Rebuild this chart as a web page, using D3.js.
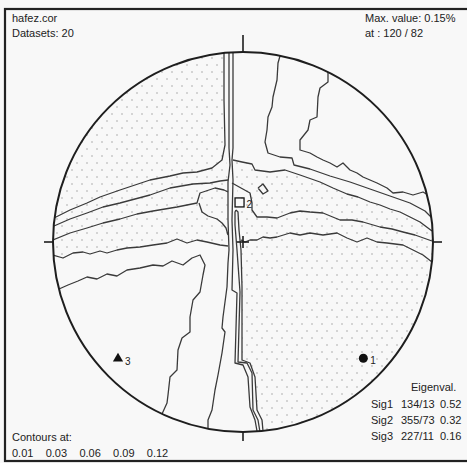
<!DOCTYPE html>
<html><head><meta charset="utf-8">
<script src="https://cdn.jsdelivr.net/npm/d3@7"></script>
<style>
body{margin:0;background:#f8f8f8}
svg{display:block}
text{font-family:"Liberation Sans",Arial,sans-serif;font-size:11px;fill:#222}
</style>
</head><body><svg id="c" width="467" height="463"></svg>
<script>
// ---------- data ----------
const headerLeft = ["hafez.cor", "Datasets: 20"];
const headerRight = ["Max. value: 0.15%", "at : 120 / 82"];
const contourTitle = "Contours at:";
const contourLevels = ["0.01", "0.03", "0.06", "0.09", "0.12"];
const eigenTitle = "Eigenval.";
const eigenNames = ["Sig1", "Sig2", "Sig3"];
const eigenTrend = [134, 355, 227];
const eigenPlunge = [13, 73, 11];
const eigenValues = ["0.52", "0.32", "0.16"];
const eigenSymbols = ["circle", "square", "triangle"];
const eigenLabels = ["1", "2", "3"];

// contour lines as [east, north] in net units (net radius = 190)
const lineA = [[-19,189],[-19,142],[-18,97],[-21,82],[-31,74],[-46,70],[-60,69],[-73,66],[-93,62],[-108,57],[-123,52],[-143,45],[-156,39],[-173,32],[-189,24]];
const lineB = [[-189,16],[-173,23],[-156,29],[-140,35],[-123,39],[-108,43],[-93,47],[-73,54],[-50,58],[-33,59],[-23,61],[-15,62]];
const lineC = [[-190,2],[-173,9],[-156,14],[-140,19],[-123,23],[-106,28],[-90,31],[-66,35],[-46,39],[-43,49],[-28,54],[-19,52],[-15,50]];
const lineC2 = [[-44,39],[-41,30],[-35,26],[-26,23],[-21,19],[-17,14],[-15,7]];
const lineD = [[-190,-13],[-180,-16],[-170,-11],[-160,-10],[-153,-12],[-143,-9],[-136,-11],[-126,-8],[-116,-6],[-103,-5],[-90,-3],[-76,-1],[-66,3],[-56,-1],[-46,2],[-36,0],[-23,-3],[-15,-4]];
const lineE = [[-184,-47],[-175,-43],[-165,-39],[-156,-35],[-146,-37],[-136,-32],[-126,-34],[-116,-28],[-103,-26],[-90,-23],[-80,-24],[-71,-19],[-60,-23],[-51,-16],[-43,-13],[-38,-23],[-40,-33],[-43,-50],[-50,-58],[-53,-75],[-53,-90],[-61,-96],[-65,-108],[-66,-128],[-73,-135],[-75,-153],[-76,-161],[-81,-172]];
const lineF = [[-14,189],[-14,94],[-13,77],[-15,60],[-15,22],[-14,-8],[-15,-21],[-16,-45],[-20,-75],[-21,-86],[-18,-90],[-21,-111],[-25,-133],[-28,-148],[-31,-168],[-35,-178],[-35,-187]];
const lineG = [[-10,189],[-10,94],[-11,82],[-10,62],[-11,22],[-10,-8],[-11,-48],[-6,-51],[-8,-121],[0,-123],[5,-135],[7,-165],[12,-178],[14,-189]];
const lineH = [[17,-190],[15,-178],[10,-168],[9,-131],[4,-121],[-5,-120],[-3,-50],[-6,-8],[-8,17],[-8,30],[-7,32]];
const lineI = [[-7,32],[-5,30],[-4,12],[-2,-8],[-1,-45],[-1,-118],[7,-121],[12,-135],[14,-168],[19,-178],[20,-189]];
const lineK = [[-10,82],[-1,80],[9,78],[12,72],[27,70],[42,72],[57,67],[77,60],[90,54],[104,48],[115,45],[127,40],[137,37],[147,33],[157,30],[167,25],[177,20],[189,11]];
const lineR1 = [[37,186],[35,179],[34,162],[30,145],[29,135],[25,125],[24,112],[22,100],[25,89],[37,85],[49,84],[51,77],[67,73],[87,66],[107,60],[127,53],[147,46],[167,39],[182,31],[189,24]];
const lineR2 = [[85,170],[85,160],[77,154],[75,145],[74,125],[67,122],[65,112],[57,102],[57,92],[67,89],[74,85],[80,82],[87,79],[94,75],[100,79],[107,72],[114,69],[120,65],[127,62],[134,59],[144,54],[150,49],[160,50],[170,47],[180,50],[185,47]];
const lineL = [[-11,59],[-2,54],[7,49],[9,39],[9,32],[14,25],[24,25],[34,24],[47,29],[57,31],[67,30],[80,29],[97,22],[109,22],[120,20],[137,15],[149,13],[160,10],[172,7],[189,1]];
const lineJ = [[-2,2],[2,0],[7,2],[14,2],[20,5],[27,4],[34,5],[47,9],[57,7],[67,9],[80,7],[94,9],[104,4],[114,0],[124,4],[134,0],[144,-1],[160,-3],[170,-8],[180,-13],[189,-20]];
const smallLoop = [[15,54],[20,58],[25,51],[20,48],[15,54]];

const contourLines = [lineA, lineB, lineC, lineC2, lineD, lineE, lineF, lineG, lineH, lineI, lineK, lineR1, lineR2, lineL, lineJ, smallLoop];

// ---------- layout ----------
const W = 467, H = 463;
const cx = 243, cy = 242, R = 190;
const svg = d3.select("#c");
const x = d3.scaleLinear().domain([-190, 190]).range([cx - R, cx + R]);
const y = d3.scaleLinear().domain([-190, 190]).range([cy + R, cy - R]);
const line = d3.line().x(d => x(d[0])).y(d => y(d[1]));

svg.append("rect").attr("width", W).attr("height", H).attr("fill", "#f8f8f8");

const defs = svg.append("defs");
const pat = defs.append("pattern").attr("id", "dots").attr("patternUnits", "userSpaceOnUse")
  .attr("width", 10).attr("height", 14);
pat.append("circle").attr("cx", 2).attr("cy", 2).attr("r", 0.75).attr("fill", "#9c9c9c");
pat.append("circle").attr("cx", 7).attr("cy", 9).attr("r", 0.75).attr("fill", "#9c9c9c");
defs.append("clipPath").attr("id", "net").append("circle").attr("cx", cx).attr("cy", cy).attr("r", R);

// stippled regions built from the contour lines
const outer = 230;
const stippleUL = lineA.concat([[-outer, 24], [-outer, outer], [-19, outer]]);
const stippleLeftBand = [[-18,97]].concat(lineA.slice(3), [[-outer,24],[-outer,-13]], lineD, [[-15,60]]);
const stippleRight = lineK.concat([[outer, 11], [outer, -20]], lineJ.slice().reverse(), [[-4, 40]]);
const stippleLR = lineJ.concat([[outer, -20], [outer, -outer], [20, -outer]], lineI.slice().reverse());

const sg = svg.append("g").attr("clip-path", "url(#net)");
[stippleUL, stippleLeftBand, stippleRight, stippleLR].forEach(p => {
  sg.append("path").attr("d", line(p) + "Z").attr("fill", "url(#dots)").attr("stroke", "none");
});

// contour lines
const lg = svg.append("g").attr("clip-path", "url(#net)");
contourLines.forEach(l => {
  lg.append("path").attr("d", line(l)).attr("fill", "none")
    .attr("stroke", "#3a3a3a").attr("stroke-width", 1.3).attr("stroke-linejoin", "round");
});

// net circle
svg.append("circle").attr("cx", cx).attr("cy", cy).attr("r", R)
  .attr("fill", "none").attr("stroke", "#1e1e1e").attr("stroke-width", 2);

// ticks N, S, E, W and centre cross
const tk = svg.append("g").attr("stroke", "#1e1e1e").attr("stroke-width", 1.6);
tk.append("line").attr("x1", x(0)).attr("x2", x(0)).attr("y1", y(190) - 17).attr("y2", y(190));
tk.append("line").attr("x1", x(0)).attr("x2", x(0)).attr("y1", y(-190)).attr("y2", y(-190) + 9);
tk.append("line").attr("x1", x(-190) - 9).attr("x2", x(-190)).attr("y1", y(0)).attr("y2", y(0));
tk.append("line").attr("x1", x(190)).attr("x2", x(190) + 9).attr("y1", y(0)).attr("y2", y(0));
tk.append("line").attr("x1", x(0) - 6).attr("x2", x(0) + 6).attr("y1", y(0)).attr("y2", y(0));
tk.append("line").attr("x1", x(0)).attr("x2", x(0)).attr("y1", y(0) - 6).attr("y2", y(0) + 6);

// eigenvector symbols (Lambert equal-area, lower hemisphere)
const rad = Math.PI / 180;
eigenTrend.forEach((tr, i) => {
  const r = 190 * Math.SQRT2 * Math.sin((90 - eigenPlunge[i]) / 2 * rad);
  const px = x(r * Math.sin(tr * rad)), py = y(r * Math.cos(tr * rad));
  const s = eigenSymbols[i];
  if (s === "circle") {
    svg.append("circle").attr("cx", px).attr("cy", py).attr("r", 4.5).attr("fill", "#111");
  } else if (s === "square") {
    svg.append("rect").attr("x", px - 4.5).attr("y", py - 4.5).attr("width", 9).attr("height", 9)
      .attr("fill", "none").attr("stroke", "#111").attr("stroke-width", 1.3);
  } else {
    svg.append("path").attr("d", d3.symbol().type(d3.symbolTriangle).size(45)())
      .attr("transform", `translate(${px},${py})`).attr("fill", "#111");
  }
  svg.append("text").attr("x", px + 7).attr("y", py + 6).style("font-size", "10px").text(eigenLabels[i]);
});

// texts
headerLeft.forEach((t, i) => svg.append("text").attr("x", 12).attr("y", 22 + i * 15).text(t));
headerRight.forEach((t, i) => svg.append("text").attr("x", 365).attr("y", 22 + i * 15).text(t));
svg.append("text").attr("x", 12).attr("y", 441).text(contourTitle);
contourLevels.forEach((t, i) => svg.append("text").attr("x", 12 + i * 33.7).attr("y", 457).text(t));
svg.append("text").attr("x", 411).attr("y", 391).text(eigenTitle);
eigenNames.forEach((t, i) => {
  const yy = 408 + i * 16;
  svg.append("text").attr("x", 371).attr("y", yy).text(t);
  svg.append("text").attr("x", 401).attr("y", yy).text(eigenTrend[i] + "/" + String(eigenPlunge[i]).padStart(2, "0"));
  svg.append("text").attr("x", 440).attr("y", yy).text(eigenValues[i]);
});

// frame
svg.append("rect").attr("x", 5).attr("y", 9).attr("width", 470).attr("height", 452)
  .attr("fill", "none").attr("stroke", "#222").attr("stroke-width", 2.2);
</script>
</body></html>
